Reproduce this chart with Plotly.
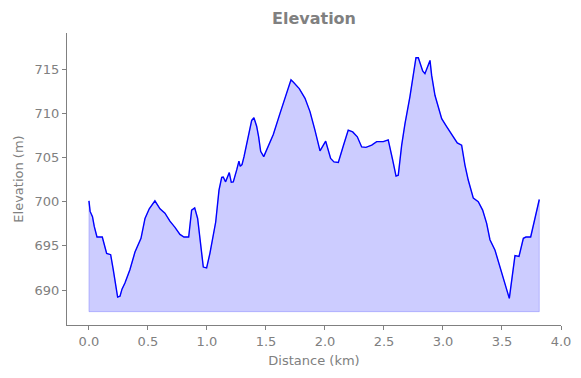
import plotly.graph_objects as go

distance_km = [0.0, 0.01, 0.03, 0.045, 0.068, 0.113, 0.15, 0.184, 0.206, 0.223, 0.243, 0.263, 0.28, 0.305,
               0.347, 0.39, 0.441, 0.475, 0.511, 0.559, 0.602, 0.644, 0.686, 0.729, 0.771, 0.805, 0.845,
               0.87, 0.896, 0.921, 0.941, 0.969, 0.997, 1.025, 1.074, 1.102, 1.125, 1.138, 1.158, 1.189,
               1.206, 1.223, 1.252, 1.271, 1.282, 1.297, 1.314, 1.345, 1.379, 1.398, 1.421, 1.438, 1.455,
               1.481, 1.511, 1.562, 1.619, 1.675, 1.712, 1.731, 1.782, 1.831, 1.873, 1.915, 1.958, 2.006,
               2.048, 2.076, 2.113, 2.155, 2.197, 2.235, 2.274, 2.311, 2.347, 2.396, 2.438, 2.494, 2.536,
               2.574, 2.602, 2.621, 2.65, 2.678, 2.72, 2.771, 2.791, 2.828, 2.847, 2.89, 2.904, 2.932,
               2.989, 3.031, 3.087, 3.121, 3.158, 3.186, 3.214, 3.257, 3.299, 3.336, 3.37, 3.398, 3.441,
               3.483, 3.525, 3.562, 3.61, 3.644, 3.681, 3.703, 3.743, 3.765, 3.816]
elevation_m = [700.1, 698.9, 698.3, 697.2, 696.0, 696.0, 694.15, 694.0, 692.3, 690.6, 689.2, 689.3, 690.1, 690.8,
               692.3, 694.3, 695.85, 698.1, 699.2, 700.1, 699.2, 698.7, 697.8, 697.1, 696.3, 696.0, 696.0,
               699.05, 699.3, 698.1, 695.65, 692.6, 692.5, 694.15, 697.7, 701.3, 702.75, 702.8, 702.25, 703.3,
               702.2, 702.25, 703.6, 704.6, 704.0, 704.2, 705.1, 707.2, 709.2, 709.5, 708.55, 707.35, 705.7,
               705.1, 706.0, 707.6, 710.0, 712.25, 713.8, 713.55, 712.8, 711.7, 710.2, 708.1, 705.75, 706.85,
               704.9, 704.5, 704.45, 706.3, 708.1, 707.9, 707.35, 706.2, 706.15, 706.4, 706.8, 706.8, 707.0,
               704.7, 702.9, 703.0, 706.4, 708.85, 711.9, 716.3, 716.3, 714.8, 714.5, 716.0, 714.3, 712.05,
               709.4, 708.5, 707.35, 706.65, 706.4, 704.15, 702.45, 700.4, 700.0, 699.05, 697.55, 695.7, 694.5,
               692.6, 690.9, 689.05, 693.9, 693.8, 695.85, 696.0, 696.0, 697.2, 700.25]
baseline_m = 687.55

gray = "#808080"

poly_x = [distance_km[0]] + distance_km + [distance_km[-1], distance_km[0]]
poly_y = [baseline_m] + elevation_m + [baseline_m, baseline_m]

fig = go.Figure()
fig.add_trace(go.Scatter(x=poly_x, y=poly_y, mode="lines", fill="toself",
                         fillcolor="rgba(0,0,255,0.2)",
                         line=dict(color="rgba(0,0,255,0.2)", width=1),
                         hoverinfo="skip", showlegend=False))
fig.add_trace(go.Scatter(x=distance_km, y=elevation_m, mode="lines",
                         line=dict(color="#0000ff", width=1.4), showlegend=False))

W, H = 573, 370
L, R, T, B = 59, 20, 25, 53
fig.update_layout(
    width=W, height=H,
    margin=dict(l=L, r=R, t=T, b=B, autoexpand=False),
    paper_bgcolor="white", plot_bgcolor="white",
    font=dict(family="DejaVu Sans", color=gray, size=12),
    title=dict(text="<b>Elevation</b>", x=(L + W - R) / 2 / W, xanchor="center",
               y=1 - 10 / H, yanchor="middle",
               font=dict(size=16, color=gray, family="DejaVu Sans")),
    xaxis=dict(range=[-0.186, 4.0], showgrid=False, zeroline=False,
               showline=True, linecolor=gray, linewidth=1,
               ticks="outside", ticklen=4, tickcolor=gray,
               tickvals=[0, 0.5, 1, 1.5, 2, 2.5, 3, 3.5, 4],
               ticktext=["0.0", "0.5", "1.0", "1.5", "2.0", "2.5", "3.0", "3.5", "4.0"],
               tickfont=dict(size=13, color=gray), automargin=False,
               title=dict(text="Distance (km)", font=dict(size=13, color=gray), standoff=8)),
    yaxis=dict(range=[686.04, 719.1], showgrid=False, zeroline=False,
               showline=True, linecolor=gray, linewidth=1,
               ticks="outside", ticklen=4, tickcolor=gray,
               tickvals=[690, 695, 700, 705, 710, 715],
               tickfont=dict(size=13, color=gray), automargin=False,
               title=dict(text="Elevation (m)", font=dict(size=13, color=gray), standoff=8)),
)

fig.write_html("out.html")
